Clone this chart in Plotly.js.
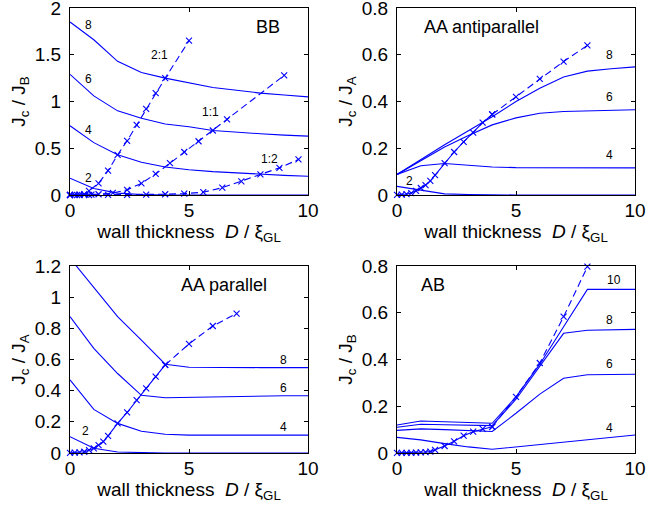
<!DOCTYPE html>
<html>
<head>
<meta charset="utf-8">
<script src="https://cdn.plot.ly/plotly-3.0.1.min.js"></script>
<style>html,body{margin:0;padding:0;background:#fff;}</style>
</head>
<body>
<div id="chart" style="width:646px;height:508px;"></div>
<script>
// Wall-thickness grid of the solid curves (D / xi_GL)
const D = [0, 1, 2, 3, 4, 5, 6, 7, 8, 9, 10];

// BB walls: solid curves labelled by n
const bbN2 = [0.18, 0.07, 0.02, 0.005, 0, 0, 0, 0, 0, 0, 0];
const bbN4 = [0.74, 0.56, 0.43, 0.35, 0.30, 0.27, 0.25, 0.235, 0.22, 0.21, 0.20];
const bbN6 = [1.29, 1.06, 0.90, 0.82, 0.76, 0.73, 0.69, 0.67, 0.655, 0.64, 0.63];
const bbN8 = [1.85, 1.66, 1.43, 1.31, 1.25, 1.20, 1.15, 1.12, 1.09, 1.07, 1.05];
// BB walls: marked curves for the ratios 2:1, 1:1, 1:2
const bbR21x = [0, 0.2, 0.4, 0.6, 0.8, 1.2, 1.6, 2.0, 2.4, 2.8, 3.2, 3.6, 4.0, 5.0];
const bbR21y = [0, 0.001, 0.003, 0.01, 0.045, 0.125, 0.26, 0.43, 0.58, 0.75, 0.92, 1.09, 1.25, 1.65];
const bbR11x = [0, 0.3, 0.6, 0.9, 1.2, 1.8, 2.4, 3.0, 3.6, 4.2, 4.8, 5.4, 6.0, 6.6, 9.0];
const bbR11y = [0, 0, 0.001, 0.003, 0.008, 0.022, 0.055, 0.125, 0.225, 0.34, 0.46, 0.575, 0.69, 0.81, 1.28];
const bbR12x = [0, 0.4, 0.8, 1.6, 2.4, 3.2, 4.0, 4.8, 5.6, 6.4, 7.2, 8.0, 8.8, 9.6];
const bbR12y = [0, 0, 0, 0.001, 0.002, 0.004, 0.008, 0.015, 0.03, 0.078, 0.145, 0.22, 0.29, 0.38];

// AA antiparallel walls
const apN2 = [0.037, 0.02, 0.005, 0.002, 0, 0, 0, 0, 0, 0, 0];
const apN4 = [0.088, 0.125, 0.135, 0.128, 0.12, 0.117, 0.117, 0.116, 0.116, 0.116, 0.116];
const apN6 = [0.088, 0.148, 0.205, 0.255, 0.30, 0.33, 0.35, 0.357, 0.36, 0.363, 0.365];
const apN8 = [0.088, 0.152, 0.215, 0.275, 0.335, 0.40, 0.457, 0.505, 0.53, 0.54, 0.548];
const apMx = [0, 0.2, 0.4, 0.6, 0.8, 1.0, 1.2, 1.4, 1.6, 2.0, 2.4, 2.8, 3.2, 3.6, 4.0, 5, 6, 7, 8];
const apMy = [0.001, 0.002, 0.004, 0.008, 0.018, 0.03, 0.042, 0.06, 0.085, 0.136, 0.184, 0.227, 0.267, 0.31, 0.345, 0.42, 0.497, 0.571, 0.64];

// AA parallel walls
const paN2 = [0.105, 0.03, 0.006, 0.002, 0, 0, 0, 0, 0, 0, 0];
const paN4 = [0.47, 0.28, 0.19, 0.14, 0.12, 0.115, 0.115, 0.115, 0.115, 0.115, 0.115];
const paN6 = [0.875, 0.672, 0.51, 0.37, 0.355, 0.358, 0.362, 0.364, 0.366, 0.367, 0.367];
const paN8 = [1.25, 1.06, 0.875, 0.725, 0.57, 0.55, 0.548, 0.548, 0.548, 0.548, 0.548];
const paMx = [0, 0.2, 0.4, 0.6, 0.8, 1.0, 1.2, 1.4, 1.6, 2.0, 2.4, 2.8, 3.2, 3.6, 4.0, 5, 6, 7];
const paMy = [0.001, 0.002, 0.004, 0.008, 0.018, 0.03, 0.05, 0.073, 0.11, 0.19, 0.26, 0.34, 0.415, 0.49, 0.565, 0.70, 0.815, 0.895];

// AB walls
const abN4 = [0.067, 0.056, 0.04, 0.026, 0.016, 0.026, 0.036, 0.046, 0.056, 0.066, 0.077];
const abN6 = [0.097, 0.103, 0.100, 0.097, 0.092, 0.17, 0.252, 0.32, 0.335, 0.336, 0.337];
const abN8 = [0.11, 0.123, 0.121, 0.119, 0.117, 0.23, 0.37, 0.512, 0.525, 0.527, 0.529];
const abN10 = [0.12, 0.137, 0.134, 0.13, 0.127, 0.24, 0.38, 0.54, 0.70, 0.70, 0.70];
const abMx = [0, 0.2, 0.4, 0.6, 0.8, 1.0, 1.2, 1.4, 1.6, 2.0, 2.4, 2.8, 3.2, 3.6, 4.0, 5, 6, 7, 8];
const abMy = [0.001, 0.001, 0.001, 0.001, 0.002, 0.003, 0.004, 0.006, 0.013, 0.03, 0.05, 0.074, 0.091, 0.103, 0.112, 0.24, 0.385, 0.583, 0.797];

const BLUE = '#0000ff';
const FONT = 'Liberation Sans, Arial, Helvetica, sans-serif';

function solid(x, y, ax) {
  return {x: x, y: y, xaxis: 'x' + ax, yaxis: 'y' + ax, type: 'scatter', mode: 'lines',
          line: {color: BLUE, width: 1.1}, hoverinfo: 'skip', showlegend: false};
}
// Marked curve: solid up to `split`, dashed beyond it
function marked(x, y, ax, split) {
  const mk = {symbol: 'x-thin-open', size: 6, color: BLUE, line: {color: BLUE, width: 1.1}};
  const out = [];
  const ia = [], ib = [];
  x.forEach((v, i) => { if (v <= split) ia.push(i); if (v >= split) ib.push(i); });
  if (ia.length) out.push({x: ia.map(i => x[i]), y: ia.map(i => y[i]), xaxis: 'x' + ax, yaxis: 'y' + ax,
    type: 'scatter', mode: 'lines+markers', line: {color: BLUE, width: 1.1}, marker: mk,
    cliponaxis: false, hoverinfo: 'skip', showlegend: false});
  if (ib.length) out.push({x: ib.map(i => x[i]), y: ib.map(i => y[i]), xaxis: 'x' + ax, yaxis: 'y' + ax,
    type: 'scatter', mode: 'lines+markers', line: {color: BLUE, width: 1.1, dash: '7px,4px'}, marker: mk,
    cliponaxis: false, hoverinfo: 'skip', showlegend: false});
  return out;
}

const data = [
  solid(D, bbN2, ''), solid(D, bbN4, ''), solid(D, bbN6, ''), solid(D, bbN8, ''),
  ...marked(bbR21x, bbR21y, '', -1), ...marked(bbR11x, bbR11y, '', -1), ...marked(bbR12x, bbR12y, '', -1),
  solid(D, apN2, '2'), solid(D, apN4, '2'), solid(D, apN6, '2'), solid(D, apN8, '2'),
  ...marked(apMx, apMy, '2', 4),
  solid(D, paN2, '3'), solid(D, paN4, '3'), solid(D, paN6, '3'), solid(D, paN8, '3'),
  ...marked(paMx, paMy, '3', 4),
  solid(D, abN4, '4'), solid(D, abN6, '4'), solid(D, abN8, '4'), solid(D, abN10, '4'),
  ...marked(abMx, abMy, '4', 4)
];

const XTITLE = 'wall thickness\u00a0\u00a0<i>D</i> / ξ<sub>GL</sub>';
function xax(dom, anchor) {
  return {domain: dom, anchor: anchor, range: [0, 10], tickvals: [0, 5, 10],
          ticks: 'inside', ticklen: 4, tickcolor: '#000', showline: true, linecolor: '#000', linewidth: 1,
          mirror: 'ticks', showgrid: false, zeroline: false, ticklabeloverflow: 'allow', ticklabelstandoff: -2,
          tickfont: {family: FONT, size: 19, color: '#000'},
          title: {text: XTITLE, font: {family: FONT, size: 19, color: '#000'}, standoff: 0}};
}
function yax(dom, anchor, range, tv, tt, sub) {
  return {domain: dom, anchor: anchor, range: range, tickvals: tv, ticktext: tt,
          ticks: 'inside', ticklen: 4, tickcolor: '#000', showline: true, linecolor: '#000', linewidth: 1,
          mirror: 'ticks', showgrid: false, zeroline: false, ticklabelstandoff: 4, ticklabeloverflow: 'allow',
          tickfont: {family: FONT, size: 19, color: '#000'},
          title: {text: 'J<sub>c</sub> / J<sub>' + sub + '</sub>', font: {family: FONT, size: 19, color: '#000'}, standoff: 4}};
}

const XL = [70 / 646, 308 / 646], XR = [397 / 646, 635 / 646];
const YT = [1 - 195 / 508, 1 - 8 / 508], YB = [1 - 453 / 508, 1 - 266 / 508];

function lab(text, x, y, ax, size) {
  return {text: text, x: x, y: y, xref: 'x' + ax, yref: 'y' + ax, showarrow: false,
          font: {family: FONT, size: size || 12, color: '#000'}, xanchor: 'center', yanchor: 'middle'};
}

const annotations = [
  lab('BB', 8.3, 1.8, '', 18), lab('8', 0.76, 1.82, ''), lab('6', 0.76, 1.24, ''), lab('4', 0.76, 0.69, ''),
  lab('2', 0.76, 0.18, ''), lab('2:1', 3.75, 1.5, ''), lab('1:1', 5.9, 0.89, ''), lab('1:2', 8.4, 0.385, ''),
  lab('AA antiparallel', 3.56, 0.72, '2', 18), lab('8', 8.92, 0.60, '2'), lab('6', 8.92, 0.42, '2'),
  lab('4', 8.92, 0.17, '2'), lab('2', 0.52, 0.061, '2'),
  lab('AA parallel', 6.45, 1.078, '3', 18), lab('8', 8.97, 0.597, '3'), lab('6', 8.97, 0.415, '3'),
  lab('4', 8.97, 0.169, '3'), lab('2', 0.67, 0.141, '3'),
  lab('AB', 1.53, 0.719, '4', 18), lab('10', 9.1, 0.74, '4'), lab('8', 8.92, 0.569, '4'),
  lab('6', 8.92, 0.379, '4'), lab('4', 8.92, 0.108, '4')
];

const layout = {
  width: 646, height: 508, margin: {l: 0, r: 0, t: 0, b: 0},
  paper_bgcolor: '#fff', plot_bgcolor: '#fff', showlegend: false,
  font: {family: FONT, color: '#000'},
  xaxis: xax(XL, 'y'), yaxis: yax(YT, 'x', [0, 2], [0, 0.5, 1, 1.5, 2], ['0', '0.5', '1', '1.5', '2'], 'B'),
  xaxis2: xax(XR, 'y2'), yaxis2: yax(YT, 'x2', [0, 0.8], [0, 0.2, 0.4, 0.6, 0.8], ['0', '0.2', '0.4', '0.6', '0.8'], 'A'),
  xaxis3: xax(XL, 'y3'), yaxis3: yax(YB, 'x3', [0, 1.2], [0, 0.2, 0.4, 0.6, 0.8, 1, 1.2], ['0', '0.2', '0.4', '0.6', '0.8', '1', '1.2'], 'A'),
  xaxis4: xax(XR, 'y4'), yaxis4: yax(YB, 'x4', [0, 0.8], [0, 0.2, 0.4, 0.6, 0.8], ['0', '0.2', '0.4', '0.6', '0.8'], 'B'),
  annotations: annotations
};

Plotly.newPlot('chart', data, layout, {staticPlot: true, displayModeBar: false});
</script>
</body>
</html>
